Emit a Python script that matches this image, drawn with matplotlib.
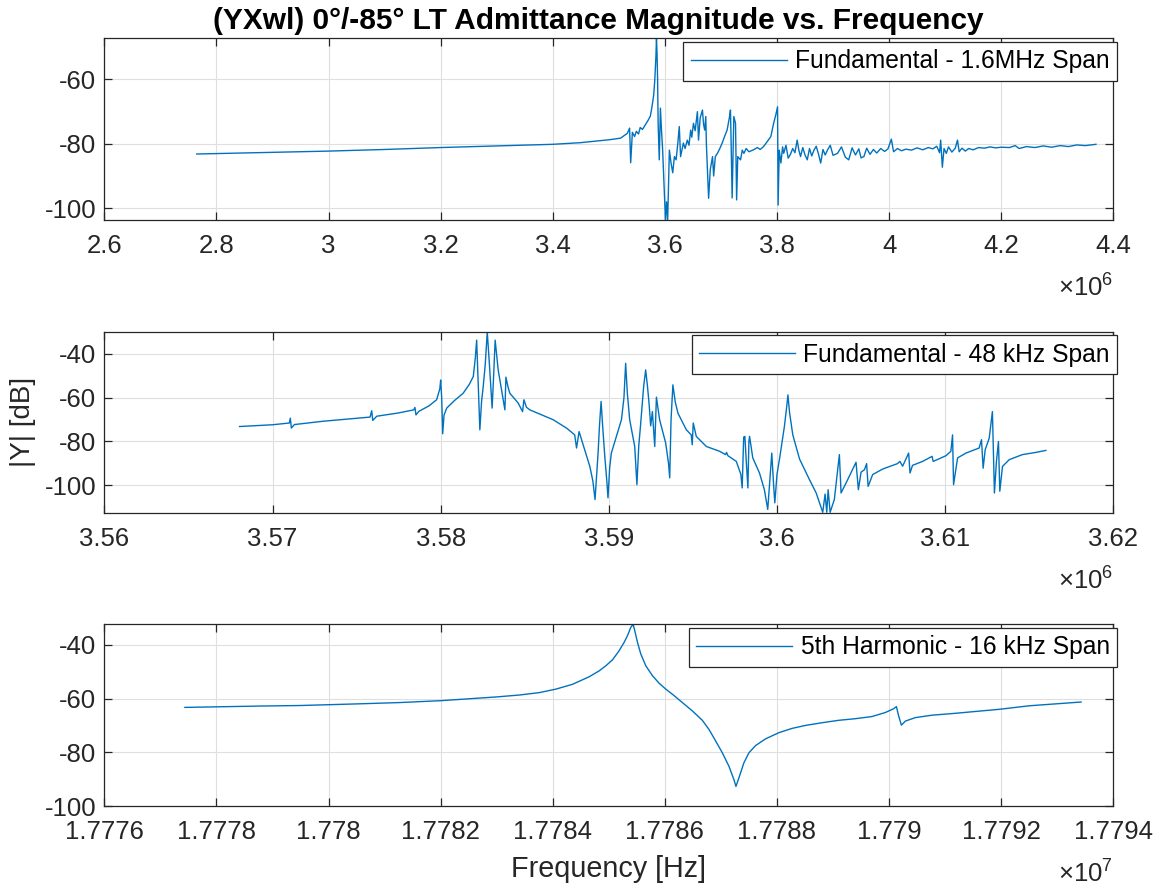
import numpy as np
from matplotlib import pyplot as plt
from matplotlib.ticker import FuncFormatter

plt.rcParams['font.family'] = ['Liberation Sans', 'DejaVu Sans']
plt.rcParams['axes.unicode_minus'] = False

# 1.6 MHz span sweep (freq in MHz, |Y| in dB)
f1_mhz = [2.765, 2.9, 3.0, 3.1, 3.2, 3.3, 3.4, 3.449, 3.5, 3.521, 3.533, 3.537, 3.539, 3.542,
          3.546, 3.549, 3.553, 3.556, 3.560, 3.565, 3.570, 3.574, 3.577, 3.580, 3.582, 3.584,
          3.585, 3.586, 3.587, 3.588, 3.590, 3.592, 3.594, 3.596, 3.599, 3.601, 3.603, 3.605,
          3.608, 3.611, 3.614, 3.617, 3.620, 3.623, 3.6257, 3.628, 3.633, 3.636, 3.640, 3.643,
          3.646, 3.648, 3.651, 3.654, 3.658, 3.660, 3.663, 3.667, 3.669, 3.671, 3.673, 3.674,
          3.676, 3.678, 3.681, 3.685, 3.687, 3.690, 3.694, 3.698, 3.702, 3.706, 3.711, 3.715,
          3.717, 3.718, 3.720, 3.722, 3.723, 3.726, 3.728, 3.730, 3.735, 3.738, 3.741, 3.745,
          3.750, 3.758, 3.765, 3.770, 3.776, 3.782, 3.789, 3.794, 3.798, 3.801, 3.802, 3.804,
          3.807, 3.810, 3.812, 3.816, 3.820, 3.824, 3.828, 3.832, 3.836, 3.839, 3.842, 3.846,
          3.850, 3.854, 3.858, 3.862, 3.866, 3.870, 3.874, 3.878, 3.882, 3.886, 3.890, 3.895,
          3.900, 3.908, 3.915, 3.922, 3.928, 3.934, 3.940, 3.946, 3.950, 3.955, 3.960, 3.966,
          3.972, 3.978, 3.985, 3.992, 3.998, 4.004, 4.008, 4.015, 4.022, 4.030, 4.040, 4.050,
          4.060, 4.070, 4.078, 4.085, 4.090, 4.092, 4.095, 4.098, 4.102, 4.106, 4.112, 4.118,
          4.122, 4.125, 4.130, 4.136, 4.142, 4.150, 4.160, 4.170, 4.180, 4.190, 4.200, 4.215,
          4.225, 4.232, 4.245, 4.260, 4.275, 4.290, 4.305, 4.320, 4.335, 4.350, 4.369]
y1_db = [-83.2, -82.7, -82.3, -81.8, -81.2, -80.7, -80.2, -79.7, -78.8, -78.3, -76.8, -75.2, -85.9, -76.5,
         -77.8, -76.2, -77.0, -75.0, -75.6, -74.2, -72.8, -71.5, -68.6, -65.0, -60.3, -53.0,
         -47.4, -52.0, -60.0, -74.0, -85.0, -69.0, -76.0, -82.0, -95.0, -103.6, -98.0, -103.6,
         -82.0, -86.0, -89.0, -84.0, -85.0, -80.0, -74.7, -84.0, -79.8, -81.5, -78.9, -80.5,
         -75.8, -78.0, -73.7, -76.0, -70.1, -78.9, -72.0, -69.6, -74.0, -75.8, -71.6, -79.9,
         -88.0, -96.9, -88.0, -84.0, -90.0, -84.0, -82.9, -81.5, -79.9, -78.0, -75.8, -72.0,
         -69.6, -78.0, -96.8, -80.0, -71.6, -73.7, -97.4, -84.0, -85.0, -82.0, -83.0, -81.5,
         -82.5, -81.9, -81.2, -81.8, -80.9, -79.5, -77.8, -73.7, -71.0, -68.6, -99.0, -82.0,
         -86.0, -81.0, -83.0, -80.5, -84.5, -83.3, -81.5, -82.8, -78.9, -82.0, -84.0, -81.2,
         -83.5, -85.0, -81.5, -83.8, -82.0, -80.8, -83.2, -86.0, -81.8, -83.5, -82.0, -80.5,
         -83.6, -83.0, -81.0, -84.2, -85.0, -81.3, -83.5, -81.6, -84.4, -84.0, -81.4, -83.3,
         -81.8, -82.9, -81.5, -82.4, -81.6, -78.6, -82.5, -81.5, -82.2, -81.7, -82.0, -81.3,
         -81.9, -81.2, -81.6, -80.8, -82.8, -78.9, -87.3, -81.5, -83.0, -81.0, -82.6, -81.4,
         -78.9, -82.5, -81.4, -82.3, -81.5, -81.9, -81.2, -81.4, -81.0, -81.3, -81.1, -81.2,
         -80.6, -81.5, -80.9, -81.2, -80.7, -81.1, -80.6, -80.9, -80.4, -80.6, -80.2]

# 48 kHz span sweep (freq in kHz)
f2_khz = [3568.04, 3570.0, 3571.0, 3571.06, 3571.12, 3571.3, 3573.0, 3575.8, 3575.90, 3575.96,
          3576.2, 3577.5, 3578.4, 3578.47, 3578.53, 3578.7, 3579.3, 3579.76, 3579.95, 3580.0,
          3580.06, 3580.12, 3580.2, 3580.36, 3580.8, 3581.34, 3581.7, 3581.94, 3582.06, 3582.14,
          3582.24, 3582.33, 3582.43, 3582.53, 3582.65, 3582.77, 3582.9, 3583.06, 3583.15, 3583.24,
          3583.32, 3583.42, 3583.62, 3583.82, 3583.88, 3584.0, 3584.11, 3584.61, 3584.87, 3584.95,
          3585.1, 3585.3, 3586.69, 3587.5, 3587.97, 3588.08, 3588.23, 3588.47, 3588.87, 3589.05,
          3589.18, 3589.28, 3589.36, 3589.45, 3589.54, 3589.65, 3589.76, 3589.88, 3589.95, 3590.05,
          3590.15, 3590.45, 3590.75, 3590.9, 3591.00, 3591.1, 3591.24, 3591.54, 3591.67, 3591.78,
          3591.88, 3592.07, 3592.19, 3592.3, 3592.39, 3592.49, 3592.59, 3592.73, 3592.83, 3593.02,
          3593.38, 3593.55, 3593.62, 3593.7, 3593.81, 3593.95, 3594.11, 3594.61, 3594.9, 3594.96,
          3595.02, 3595.2, 3595.80, 3596.59, 3596.94, 3597.0, 3597.08, 3597.58, 3597.85, 3597.93,
          3598.02, 3598.09, 3598.18, 3598.27, 3598.33, 3598.37, 3598.56, 3598.96, 3599.25, 3599.45,
          3599.6, 3599.69, 3599.8, 3599.87, 3600.0, 3600.15, 3600.44, 3600.58, 3600.65, 3600.75,
          3600.94, 3601.34, 3601.93, 3602.33, 3602.72, 3602.86, 3602.96, 3603.04, 3603.16, 3603.41,
          3603.71, 3603.81, 3604.11, 3604.70, 3604.84, 3605.0, 3605.20, 3605.33, 3605.42, 3605.69,
          3606.28, 3607.17, 3607.31, 3607.47, 3607.83, 3607.91, 3608.06, 3608.66, 3609.22, 3609.29,
          3610.05, 3610.34, 3610.44, 3610.50, 3610.74, 3611.24, 3612.02, 3612.16, 3612.26, 3612.38,
          3612.62, 3612.81, 3612.93, 3613.05, 3613.17, 3613.25, 3613.41, 3613.81, 3614.60, 3615.39,
          3615.99]
y2_db = [-73.2, -72.4, -71.6, -69.4, -73.9, -72.3, -70.8, -68.9, -66.0, -70.4,
         -68.5, -67.0, -65.6, -64.5, -67.9, -66.3, -63.8, -61.0, -56.0, -52.0,
         -60.0, -76.5, -68.0, -64.8, -61.5, -58.0, -54.0, -50.4, -42.0, -33.8,
         -55.0, -74.7, -62.0, -55.0, -45.0, -30.0, -45.0, -64.8, -50.0, -33.8,
         -40.0, -47.4, -56.5, -65.6, -50.7, -55.0, -58.0, -62.5, -66.4, -61.0,
         -64.4, -65.6, -70.1, -74.0, -77.0, -83.0, -75.5, -81.5, -91.4, -98.0,
         -106.5, -95.0, -85.3, -72.0, -61.8, -75.0, -86.8, -98.0, -105.7, -92.0,
         -85.3, -77.7, -70.1, -60.0, -44.4, -58.0, -70.1, -82.3, -99.7, -82.0,
         -73.2, -55.0, -47.4, -55.0, -62.5, -72.9, -66.4, -82.3, -59.8, -70.1,
         -80.7, -90.0, -96.6, -70.0, -54.2, -62.0, -67.1, -74.7, -77.0, -81.5,
         -71.6, -77.7, -82.3, -84.5, -86.0, -85.0, -86.5, -89.1, -95.0, -101.2,
         -78.0, -77.7, -90.0, -101.2, -80.0, -77.7, -87.5, -94.4, -102.0, -111.0,
         -95.0, -85.3, -100.0, -108.0, -95.0, -88.0, -73.2, -64.0, -58.8, -67.0,
         -77.0, -88.0, -97.4, -103.5, -112.3, -104.0, -112.3, -102.0, -112.3, -106.5,
         -86.0, -103.5, -98.9, -89.5, -102.0, -94.0, -92.9, -90.1, -100.5, -95.1,
         -92.6, -90.1, -89.1, -91.3, -85.3, -94.4, -90.9, -89.1, -86.8, -89.1,
         -86.5, -84.5, -77.0, -99.7, -87.5, -85.3, -83.0, -79.2, -92.2, -83.8,
         -78.5, -66.4, -103.5, -89.1, -80.0, -102.7, -91.4, -88.3, -86.0, -85.0,
         -84.1]

# 5th harmonic, 16 kHz span (freq in kHz)
f3_khz = [17777.437, 17778.773, 17779.486, 17780.5, 17781.266, 17782.0, 17783.0, 17783.4,
          17783.760, 17784.056, 17784.353, 17784.650, 17784.828, 17784.947, 17785.066, 17785.184,
          17785.273, 17785.333, 17785.392, 17785.434, 17785.469, 17785.511, 17785.570, 17785.659,
          17785.778, 17785.897, 17786.016, 17786.134, 17786.312, 17786.490, 17786.668, 17786.787,
          17786.906, 17787.025, 17787.143, 17787.232, 17787.268, 17787.321, 17787.410, 17787.499,
          17787.618, 17787.796, 17788.034, 17788.271, 17788.509, 17788.805, 17789.102, 17789.399,
          17789.696, 17789.933, 17790.082, 17790.130, 17790.171, 17790.219, 17790.290, 17790.468,
          17790.764, 17791.180, 17791.970, 17792.5, 17793.425]
y3_db = [-63.3, -62.8, -62.6, -62.0, -61.5, -60.8, -59.4, -58.7,
         -57.8, -56.5, -54.7, -51.9, -49.7, -47.8, -45.6, -42.2,
         -39.1, -36.6, -33.5, -32.4, -35.3, -39.1, -43.4, -47.8,
         -51.5, -54.3, -56.5, -58.4, -61.5, -64.6, -68.1, -71.5,
         -75.8, -80.2, -85.2, -90.2, -92.7, -89.5, -83.9, -80.2,
         -77.5, -75.0, -72.7, -71.1, -70.0, -69.0, -68.1, -67.5,
         -66.7, -65.2, -63.8, -63.0, -66.5, -69.9, -68.4, -67.1,
         -66.2, -65.5, -64.0, -62.7, -61.3]

labels = ['Fundamental - 1.6MHz Span', 'Fundamental - 48 kHz Span', '5th Harmonic - 16 kHz Span']
xticks1 = [2.6e6, 2.8e6, 3.0e6, 3.2e6, 3.4e6, 3.6e6, 3.8e6, 4.0e6, 4.2e6, 4.4e6]
xticks2 = [3.56e6, 3.57e6, 3.58e6, 3.59e6, 3.60e6, 3.61e6, 3.62e6]
xticks3 = [1.7776e7, 1.7778e7, 1.7780e7, 1.7782e7, 1.7784e7, 1.7786e7, 1.7788e7,
           1.7790e7, 1.7792e7, 1.7794e7]

fig = plt.figure(figsize=(11.62, 8.88), dpi=100)
dark = '#262626'
blue = '#0072BD'
fs = 18.5

panels = [
    (np.array(f1_mhz) * 1e6, y1_db, xticks1, 6, (-103.6, -47.4), [-100, -80, -60], [0.0898, 0.7523, 0.8683, 0.2046]),
    (np.array(f2_khz) * 1e3, y2_db, xticks2, 6, (-112.5, -30), [-100, -80, -60, -40], [0.0898, 0.4226, 0.8683, 0.2038]),
    (np.array(f3_khz) * 1e3, y3_db, xticks3, 7, (-100, -32.4), [-100, -80, -60, -40], [0.0898, 0.0923, 0.8683, 0.2046]),
]

axes = []
for i, (x, y, xt, exp, ylim, yt, pos) in enumerate(panels):
    ax = fig.add_axes(pos)
    ax.plot(x, y, color=blue, lw=1.0, label=labels[i])
    ax.set_xlim(xt[0], xt[-1])
    ax.set_ylim(*ylim)
    ax.set_xticks(xt)
    ax.set_yticks(yt)
    ax.xaxis.set_major_formatter(FuncFormatter(lambda v, p, e=exp: '%g' % (v / 10 ** e)))
    ax.grid(True, color='#dfdfdf', lw=0.8)
    ax.set_axisbelow(True)
    ax.tick_params(direction='in', length=6, width=0.9, top=True, right=True,
                   labelsize=fs, colors=dark)
    ax.tick_params(axis='x', pad=10)
    ax.tick_params(axis='y', pad=6)
    for s in ax.spines.values():
        s.set_color(dark)
        s.set_linewidth(0.9)
    ax.annotate('×$\\mathregular{10^{%d}}$' % exp, xy=(1, 0), xycoords='axes fraction',
                xytext=(0, -55), textcoords='offset points', ha='right', va='baseline',
                fontsize=fs, color=dark)
    leg = ax.legend(loc='upper right', bbox_to_anchor=(1.004, 0.98), borderaxespad=0,
                    fontsize=17.7, handlelength=3.9, handletextpad=0.35, borderpad=0.3,
                    fancybox=False, framealpha=1)
    leg.get_frame().set_edgecolor(dark)
    leg.get_frame().set_linewidth(0.9)
    axes.append(ax)

axes[0].set_title('(YXwl) 0°/-85° LT Admittance Magnitude vs. Frequency',
                  fontsize=21.5, fontweight='bold', color='black', pad=7, x=0.49)
axes[1].set_ylabel('|Y| [dB]', fontsize=20, color=dark, labelpad=6)
axes[2].set_xlabel('Frequency [Hz]', fontsize=20.7, color=dark, labelpad=8)

plt.savefig('out.png', dpi=100)
